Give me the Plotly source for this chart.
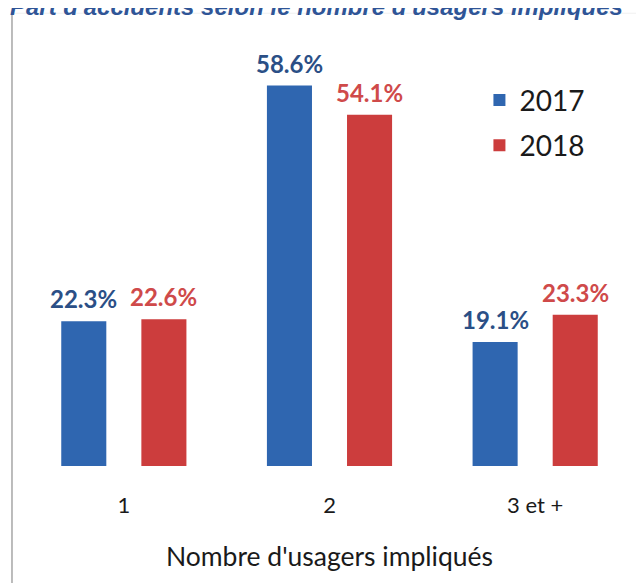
import plotly.graph_objects as go

# Données
categories = ['1', '2', '3 et +']
valeurs_2017 = [22.3, 58.6, 19.1]
valeurs_2018 = [22.6, 54.1, 23.3]

bleu = '#2F66B0'
rouge = '#CC3D3D'
texte_bleu = '#2B4F86'
texte_rouge = '#CF4A4A'

fig = go.Figure()
fig.add_trace(go.Bar(
    x=categories, y=valeurs_2017, name='2017', legendgroup='a',
    marker=dict(color=bleu, line=dict(width=0)),
))
fig.add_trace(go.Bar(
    x=categories, y=valeurs_2018, name='2018', legendgroup='b',
    marker=dict(color=rouge, line=dict(width=0)),
))

# étiquettes de valeurs au-dessus des barres (x = index de la catégorie)
etiquettes = []
for valeurs, decalage, couleur in [(valeurs_2017, -40, texte_bleu), (valeurs_2018, 40, texte_rouge)]:
    for i, v in enumerate(valeurs):
        etiquettes.append(dict(
            x=i, y=v, text=f'<b>{v:.1f}%</b>', showarrow=False,
            xanchor='center', yanchor='bottom', xshift=decalage, yshift=6,
            font=dict(family='Lato', size=24, color=couleur),
        ))

etiquettes.append(dict(
    text="<b><i>Part d'accidents selon le nombre d'usagers impliqués</i></b>",
    font=dict(family='Liberation Sans', size=24, color='#2F5597'),
    xref='paper', yref='paper', x=-0.021, y=1.09,
    xanchor='left', yanchor='middle', showarrow=False,
))

fig.update_layout(
    width=636, height=575,
    paper_bgcolor='white', plot_bgcolor='white',
    margin=dict(l=13, r=6, t=36, b=117),
    barmode='group', bargap=0.221, bargroupgap=0.4375,
    font=dict(family='Lato', color='#1a1a1a'),
    legend=dict(
        x=0.743, y=0.926, xanchor='left', yanchor='top',
        font=dict(family='Lato', size=28, color='#1a1a1a'),
        tracegroupgap=6, itemwidth=30,
    ),
    xaxis=dict(
        type='category', showline=False, ticks='', showgrid=False,
        tickfont=dict(size=22), ticklabelstandoff=24,
        title=dict(text="Nombre d'usagers impliqués", font=dict(size=26.5), standoff=30),
    ),
    yaxis=dict(range=[0, 65], visible=False),
    annotations=etiquettes,
    shapes=[
        dict(type='line', xref='paper', yref='paper', x0=-0.0146, x1=-0.0146,
             y0=-0.3, y1=1.073, line=dict(color='#A6A6A6', width=1.5)),
        dict(type='line', xref='paper', yref='paper', x0=-0.0146, x1=1.01,
             y0=1.073, y1=1.073, line=dict(color='#F0F0F0', width=1)),
    ],
)

fig.write_html('out.html')
